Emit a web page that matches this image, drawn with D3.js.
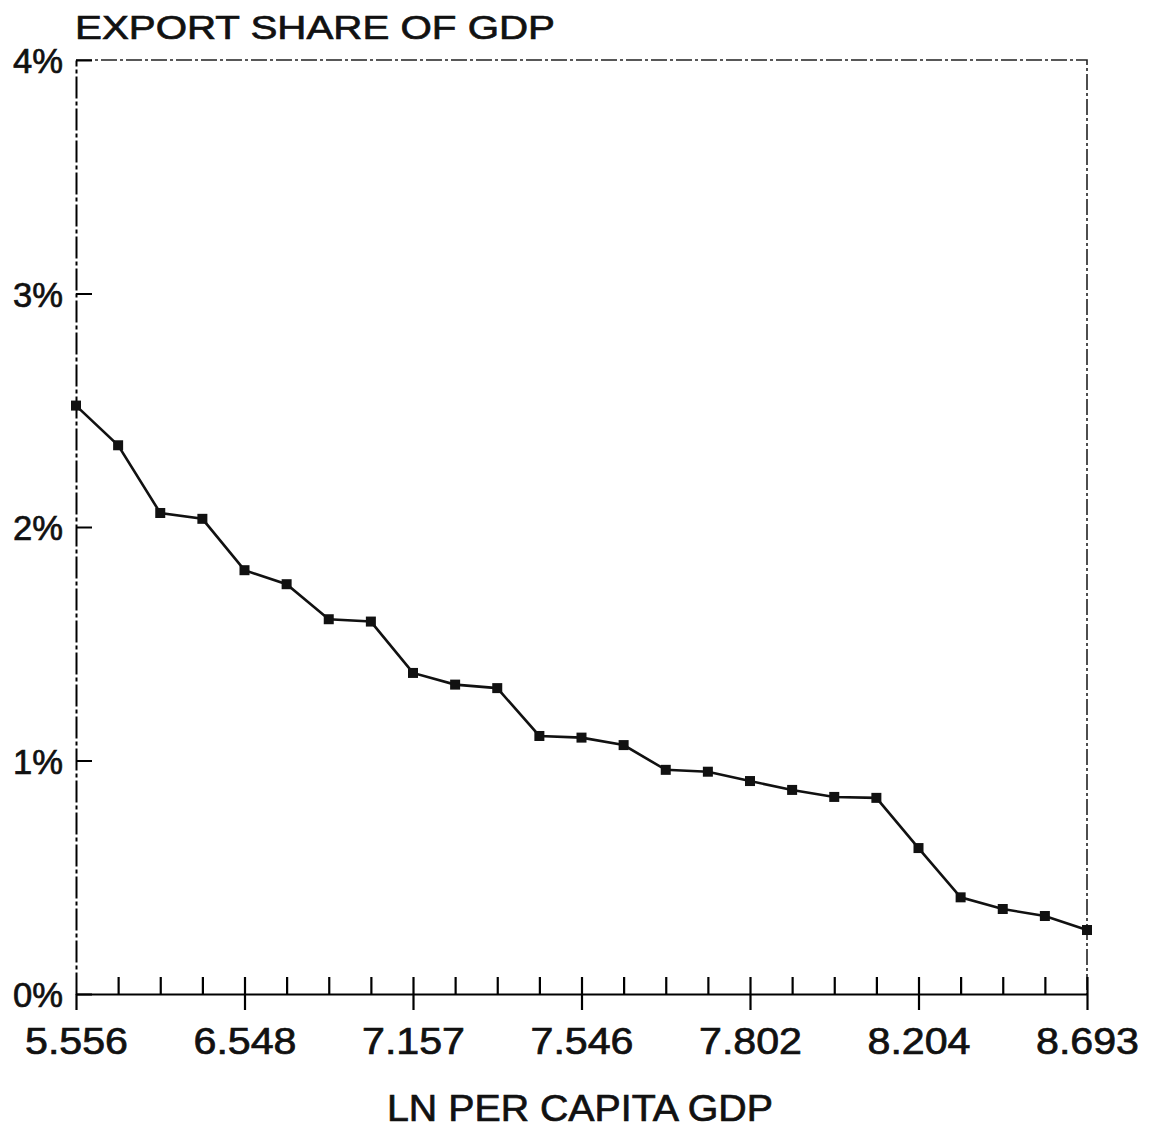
<!DOCTYPE html>
<html>
<head>
<meta charset="utf-8">
<script src="https://cdn.jsdelivr.net/npm/d3@7"></script>
<style>
  body { margin: 0; background: #fff; }
  text { font-family: "Liberation Sans", Arial, sans-serif; fill: #111; stroke: #111; stroke-width: 0.7px; }
</style>
</head>
<body>
<div id="chart"></div>
<script>
// export share of GDP (%) for 25 per capita GDP groups, low to high
var shares = [2.52, 2.35, 2.06, 2.035, 1.815, 1.755, 1.605, 1.595, 1.375, 1.325, 1.31,
              1.105, 1.098, 1.066, 0.96, 0.952, 0.912, 0.874, 0.844, 0.84, 0.625,
              0.414, 0.364, 0.334, 0.274];
var labelIdx = [0, 4, 8, 12, 16, 20, 24];
var xLabels = ["5.556", "6.548", "7.157", "7.546", "7.802", "8.204", "8.693"];
var yTicks = [0, 1, 2, 3, 4];

var width = 1152, height = 1130;

var svg = d3.select("#chart")
  .append("svg")
    .attr("width", width)
    .attr("height", height);

var x = d3.scalePoint()
  .domain(d3.range(shares.length))
  .range([76, 1087]);

var y = d3.scaleLinear()
  .domain([0, 4])
  .range([994, 60]);

// top and right border, dashed
svg.append("path")
  .attr("d", "M" + x(0) + "," + y(4) + "H" + x(24) + "V" + y(0))
  .attr("fill", "none")
  .attr("stroke", "#222")
  .attr("stroke-width", 1.6)
  .attr("stroke-dasharray", "16,3,3,3");

// Y axis (ticks point inward)
var yAxis = svg.append("g")
  .attr("transform", "translate(" + x(0) + ",0)")
  .call(d3.axisLeft(y).tickValues(yTicks).tickSize(-16).tickSizeOuter(0).tickPadding(13)
    .tickFormat(function(d) { return d + "%"; }));
yAxis.select(".domain").attr("stroke-width", 2).attr("stroke-dasharray", "22,3,4,3");
yAxis.selectAll(".tick line").attr("stroke-width", 2);
yAxis.selectAll(".tick text")
  .style("font-size", "35px")
  .attr("dy", "0.37em")
  .attr("textLength", 50)
  .attr("lengthAdjust", "spacingAndGlyphs");

// minor ticks upward on the X axis
var xMinor = svg.append("g")
  .attr("transform", "translate(0," + y(0) + ")")
  .call(d3.axisTop(x).tickValues(d3.range(1, shares.length)).tickSize(17).tickSizeOuter(0).tickFormat(""));
xMinor.select(".domain").attr("stroke-width", 2.2);
xMinor.selectAll(".tick line").attr("stroke-width", 2.2);

// major ticks down with labels
var xAxis = svg.append("g")
  .attr("transform", "translate(0," + y(0) + ")")
  .call(d3.axisBottom(x).tickValues(labelIdx).tickSize(16).tickSizeOuter(0).tickPadding(18)
    .tickFormat(function(d) { return xLabels[labelIdx.indexOf(d)]; }));
xAxis.select(".domain").remove();
xAxis.selectAll(".tick line").attr("stroke-width", 2.2);
xAxis.selectAll(".tick text")
  .style("font-size", "36px")
  .attr("dy", "0.71em")
  .attr("textLength", 103)
  .attr("lengthAdjust", "spacingAndGlyphs");

// the line
svg.append("path")
  .datum(shares)
  .attr("fill", "none")
  .attr("stroke", "#111")
  .attr("stroke-width", 2.6)
  .attr("d", d3.line()
    .x(function(d, i) { return x(i); })
    .y(function(d) { return y(d); }));

svg.selectAll(".pt")
  .data(shares)
  .enter()
  .append("rect")
    .attr("class", "pt")
    .attr("x", function(d, i) { return x(i) - 5; })
    .attr("y", function(d) { return y(d) - 5; })
    .attr("width", 10)
    .attr("height", 10)
    .attr("fill", "#111");

// titles
svg.append("text")
  .attr("x", 75)
  .attr("y", 39)
  .style("font-size", "34px")
  .attr("textLength", 480)
  .attr("lengthAdjust", "spacingAndGlyphs")
  .text("EXPORT SHARE OF GDP");

svg.append("text")
  .attr("x", 387)
  .attr("y", 1121)
  .style("font-size", "37px")
  .attr("textLength", 386)
  .attr("lengthAdjust", "spacingAndGlyphs")
  .text("LN PER CAPITA GDP");
</script>
</body>
</html>
